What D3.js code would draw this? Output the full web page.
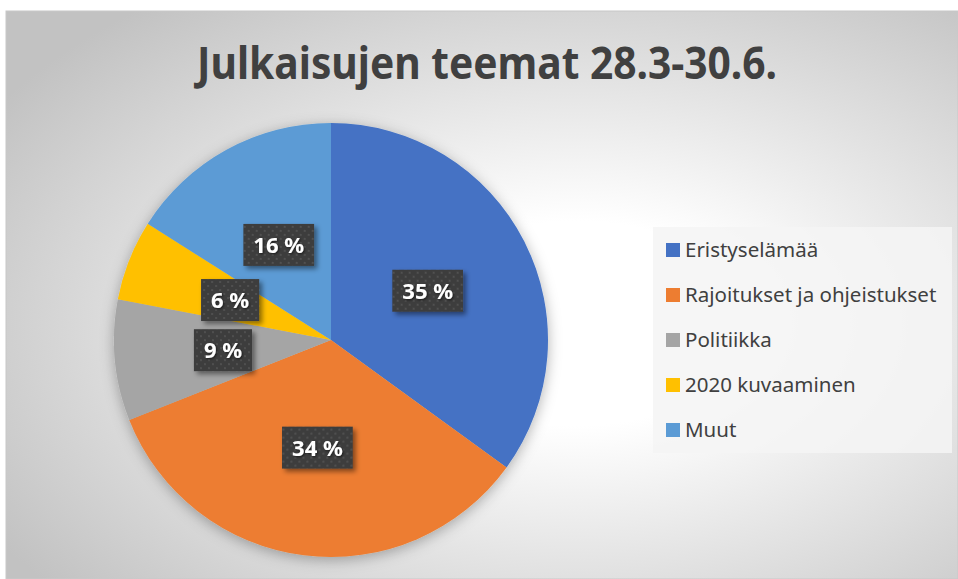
<!DOCTYPE html>
<html>
<head>
<meta charset="utf-8">
<script src="https://cdn.jsdelivr.net/npm/d3@7"></script>
<style>
    html, body { margin: 0; padding: 0; background: #fff; }
    svg { display: block; }
</style>
</head>
<body>
<div id="chart"></div>
<script>
'use strict';

// Chart data (shares in percent).
var categories = ['Eristyselämää', 'Rajoitukset ja ohjeistukset', 'Politiikka', '2020 kuvaaminen', 'Muut'];
var shares     = [35, 34, 9, 6, 16];
var colors     = ['#4472C4', '#ED7D31', '#A5A5A5', '#FFC000', '#5B9BD5'];
var title      = 'Julkaisujen teemat 28.3-30.6.';

var width  = 958,
    height = 579,
    frame  = {left: 6, top: 11},
    center = {x: 331, y: 340},
    radius = 217;

var svg = d3.select('#chart').append('svg')
    .attr('width', width)
    .attr('height', height);

var defs = svg.append('defs');

// Background gradient of the chart area.
var bg = defs.append('radialGradient')
    .attr('id', 'bg')
    .attr('cx', 0.6)
    .attr('cy', 0.55)
    .attr('r', 0.72);
bg.append('stop').attr('offset', 0).attr('stop-color', '#ffffff');
bg.append('stop').attr('offset', 0.25).attr('stop-color', '#ffffff');
bg.append('stop').attr('offset', 1).attr('stop-color', '#c2c2c2');

// Dotted pattern for the data labels.
var pat = defs.append('pattern')
    .attr('id', 'dots')
    .attr('patternUnits', 'userSpaceOnUse')
    .attr('width', 8)
    .attr('height', 8);
pat.append('rect').attr('width', 8).attr('height', 8).attr('fill', '#3d3d3d');
pat.append('circle').attr('cx', 2).attr('cy', 2).attr('r', 0.9).attr('fill', '#595959');
pat.append('circle').attr('cx', 6).attr('cy', 6).attr('r', 0.9).attr('fill', '#595959');

var pieShadow = defs.append('filter').attr('id', 'pieShadow')
    .attr('x', '-20%').attr('y', '-20%').attr('width', '140%').attr('height', '140%');
pieShadow.append('feDropShadow')
    .attr('dx', 0).attr('dy', 3).attr('stdDeviation', 7)
    .attr('flood-color', '#000').attr('flood-opacity', 0.3);

var boxShadow = defs.append('filter').attr('id', 'boxShadow')
    .attr('x', '-30%').attr('y', '-30%').attr('width', '160%').attr('height', '160%');
boxShadow.append('feDropShadow')
    .attr('dx', 3).attr('dy', 3).attr('stdDeviation', 2.5)
    .attr('flood-color', '#000').attr('flood-opacity', 0.45);

var textShadow = defs.append('filter').attr('id', 'textShadow');
textShadow.append('feDropShadow')
    .attr('dx', 1).attr('dy', 1).attr('stdDeviation', 1)
    .attr('flood-color', '#000').attr('flood-opacity', 0.6);

// Chart area.
svg.append('rect')
    .attr('x', frame.left)
    .attr('y', frame.top)
    .attr('width', width - frame.left)
    .attr('height', height - frame.top)
    .attr('fill', 'url(#bg)')
    .attr('stroke', '#c8c8c8')
    .attr('stroke-width', 1);

svg.append('text')
    .attr('x', 487)
    .attr('y', 79)
    .attr('text-anchor', 'middle')
    .attr('font-family', '"Noto Sans", sans-serif')
    .attr('font-weight', 'bold')
    .attr('font-size', 45)
    .attr('fill', '#404040')
    .attr('textLength', 580)
    .attr('lengthAdjust', 'spacingAndGlyphs')
    .text(title);

// The pie.
var pie = d3.pie().sort(null).value(function (d) {
    return d;
});

var arc = d3.arc().innerRadius(0).outerRadius(radius);

var arcs = pie(shares);

var g = svg.append('g')
    .attr('transform', 'translate(' + center.x + ',' + center.y + ')');

g.append('g')
    .attr('filter', 'url(#pieShadow)')
    .selectAll('path')
    .data(arcs)
    .enter().append('path')
    .attr('d', arc)
    .attr('fill', function (d, i) {
        return colors[i];
    });

// Data labels.
var labels = g.selectAll('.label')
    .data(arcs)
    .enter().append('g')
    .attr('class', 'label')
    .attr('transform', function (d) {
        return 'translate(' + arc.centroid(d) + ')';
    });

labels.each(function (d) {
    var lg = d3.select(this);
    var t = lg.append('text')
        .attr('text-anchor', 'middle')
        .attr('dy', '0.36em')
        .attr('font-family', '"Noto Sans", sans-serif')
        .attr('font-weight', 'bold')
        .attr('font-size', 22)
        .attr('fill', '#fff')
        .attr('filter', 'url(#textShadow)')
        .text(d.data + ' %');
    var w = t.node().getComputedTextLength() + 20;
    lg.insert('rect', 'text')
        .attr('x', -w / 2)
        .attr('y', -21)
        .attr('width', w)
        .attr('height', 42)
        .attr('fill', 'url(#dots)')
        .attr('filter', 'url(#boxShadow)');
});

// Legend.
var legend = svg.append('g')
    .attr('transform', 'translate(653,227)');

legend.append('rect')
    .attr('width', 299)
    .attr('height', 226)
    .attr('fill', '#f5f5f5')
    .attr('fill-opacity', 0.85);

var item = legend.selectAll('.item')
    .data(categories)
    .enter().append('g')
    .attr('class', 'item')
    .attr('transform', function (d, i) {
        return 'translate(13,' + (23 + i * 45) + ')';
    });

item.append('rect')
    .attr('y', -7)
    .attr('width', 14)
    .attr('height', 14)
    .attr('fill', function (d, i) {
        return colors[i];
    });

item.append('text')
    .attr('x', 19)
    .attr('dy', '0.36em')
    .attr('font-family', '"Noto Sans", sans-serif')
    .attr('font-size', 20.5)
    .attr('fill', '#404040')
    .text(function (d) {
        return d;
    });
</script>
</body>
</html>
